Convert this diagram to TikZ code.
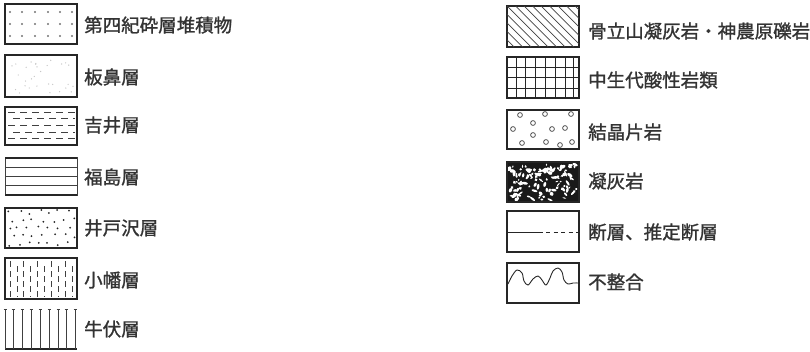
\documentclass[tikz,border=0pt]{standalone}
\usepackage{fontspec}
\setmainfont[FakeBold=1.2]{Noto Sans CJK JP}
\begin{document}
\begin{tikzpicture}[x=1pt,y=-1pt,
  box/.style={draw=black!85,line width=1.1pt},
  thin/.style={draw=black!75,line width=0.7pt},
  lbl/.style={anchor=west,inner sep=0pt,font=\fontsize{18.5}{19}\selectfont,text=black!80}]
\useasboundingbox (0,0) rectangle (810,351);
\pgfmathsetseed{7}
% ---------- left column ----------
% 1 Quaternary: dot grid
\draw[box] (5,4) rectangle (77,44);
\foreach \xx in {10,22,35,48,60,72}
  \foreach \yy in {12,24,36}
    \fill[black!55] (\xx,\yy) circle (1.1);
\node[lbl] (t1) at (84,25) {第四紀砕層堆積物};
% 2 Itahana: faint stipple
\draw[box] (5,55) rectangle (77,97);
\foreach \i in {1,...,30}{
  \pgfmathsetmacro\rx{8+66*rnd}\pgfmathsetmacro\ry{58+36*rnd}
  \fill[black!22] (\rx,\ry) circle (0.7);}
\node[lbl] (t2) at (84,77) {板鼻層};
% 3 Yoshii: dashes
\draw[box] (5,107) rectangle (77,145);
\foreach \yy/\off in {112/0,118/5,125/0,132/5,138/0}
  \foreach \k in {0,...,5}{
    \pgfmathsetmacro\xa{8+\off+12*\k}
    \pgfmathsetmacro\xb{min(\xa+7,75)}
    \draw[thin] (\xa,\yy) -- (\xb,\yy);}
\node[lbl] (t3) at (84,125) {吉井層};
% 4 Fukushima: horizontal lines
\draw[thin] (5,157) -- (5,196) (77,157) -- (77,196);
\draw[black!85,line width=1.8pt] (5,158) -- (77,158) (5,195) -- (77,195);
\foreach \yy in {167,176,185} \draw[thin,line width=0.5pt] (5,\yy) -- (77,\yy);
\node[lbl] (t4) at (84,177) {福島層};
% 5 Idozawa: scattered dots (jittered grid)
\draw[box] (5,208) rectangle (77,248);
\foreach \r in {0,...,4}
  \foreach \c in {0,...,6}{
    \pgfmathsetmacro\rx{9+10*\c+mod(\r,2)*5+3*rand}
    \pgfmathsetmacro\ry{212+8*\r+2*rand}
    \ifdim\rx pt<75pt \fill[black!85] (\rx,\ry) circle (1.0);\fi}
\node[lbl] (t5) at (84,228) {井戸沢層};
% 6 Obata: staggered vertical dashes
\draw[box] (5,258) rectangle (77,299);
\foreach \k in {0,...,9}{
  \pgfmathsetmacro\xx{10+6.9*\k}
  \pgfmathsetmacro\off{mod(\k,2)*5}
  \foreach \j in {0,1,2,3}{
    \pgfmathsetmacro\ya{261+\off+10*\j}
    \pgfmathsetmacro\yb{min(\ya+6,297)}
    \ifdim\ya pt<297pt \draw[thin] (\xx,\ya) -- (\xx,\yb);\fi}}
\node[lbl] (t6) at (84,280) {小幡層};
% 7 Ushibuse: vertical lines
\draw[black!85,line width=1.4pt] (5,349) -- (77,349);
\foreach \xx in {5,13,22,31,40,49,58,66,75}{
  \draw[thin,line width=0.8pt] (\xx,309) -- (\xx,349);
  \draw[thin] (\xx-1.5,309) -- (\xx+1.5,309);}
\node[lbl] (t7) at (84,329) {牛伏層};
% ---------- right column ----------
% 1 diagonal hatching
\draw[box] (507,6) rectangle (579,47);
\begin{scope}
\clip (507,6) rectangle (579,47);
\foreach \k in {-6,...,9}
  \draw[thin,line width=0.7pt] (507+8.5*\k,6) -- (507+8.5*\k+41,47);
\end{scope}
\node[lbl] (r1) at (588,31) {骨立山凝灰岩・神農原礫岩};
% 2 grid
\draw[box] (507,57) rectangle (579,98);
\foreach \xx in {516,525,535,545,555,565,573} \draw[black!85,line width=0.9pt] (\xx,57) -- (\xx,98);
\foreach \yy in {67,77,88} \draw[black!85,line width=0.9pt] (507,\yy) -- (579,\yy);
\node[lbl] (r2) at (588,80) {中生代酸性岩類};
% 3 circles
\draw[box] (507,110) rectangle (579,149);
\foreach \p in {(520,115),(545,114),(571,114),(533,123),(513,129),(552,129),(565,128),(533,135),(522,143),(546,142),(560,145),(572,142)}
  \draw[thin,line width=0.7pt] \p circle (2.4);
\node[lbl] (r3) at (588,132) {結晶片岩};
% 4 tuff: black blotches
\fill[black!90] (507,162) rectangle (579,202);
\foreach \i in {1,...,120}{
  \pgfmathsetmacro\rx{509+68*rnd}\pgfmathsetmacro\ry{164+36*rnd}
  \pgfmathsetmacro\ra{1.0+2.2*rnd}\pgfmathsetmacro\rb{0.6+1.2*rnd}
  \pgfmathsetmacro\an{180*rnd}
  \fill[white,rotate around={\an:(\rx,\ry)}] (\rx,\ry) ellipse ({\ra} and {\rb});}
\draw[box] (507,162) rectangle (579,202);
\node[lbl] (r4) at (588,181) {凝灰岩};
% 5 fault
\draw[box] (507,211) rectangle (579,252);
\coordinate (fa) at (507,232);
\coordinate (fb) at (543,232);
\coordinate (fc) at (579,232);
\draw[black!85,line width=0.9pt] (fa) -- (fb);
\draw[black!85,line width=0.9pt,dash pattern=on 4pt off 3.5pt] ([xshift=3pt]fb) -- (fc);
\node[lbl] (r5) at (588,232) {断層、推定断層};
% 6 unconformity
\draw[box] (507,263) rectangle (579,303);
\draw[black!85,line width=0.9pt] plot[smooth,tension=0.6] coordinates {(508,284) (512,276) (517,270) (522,273) (524,281) (528,285) (533,279) (538,276) (542,280) (546,285) (550,278) (553,271) (558,268) (562,272) (564,280) (568,284) (573,283) (578,283)};
\node[lbl] (r6) at (588,282) {不整合};
\end{tikzpicture}
\end{document}
